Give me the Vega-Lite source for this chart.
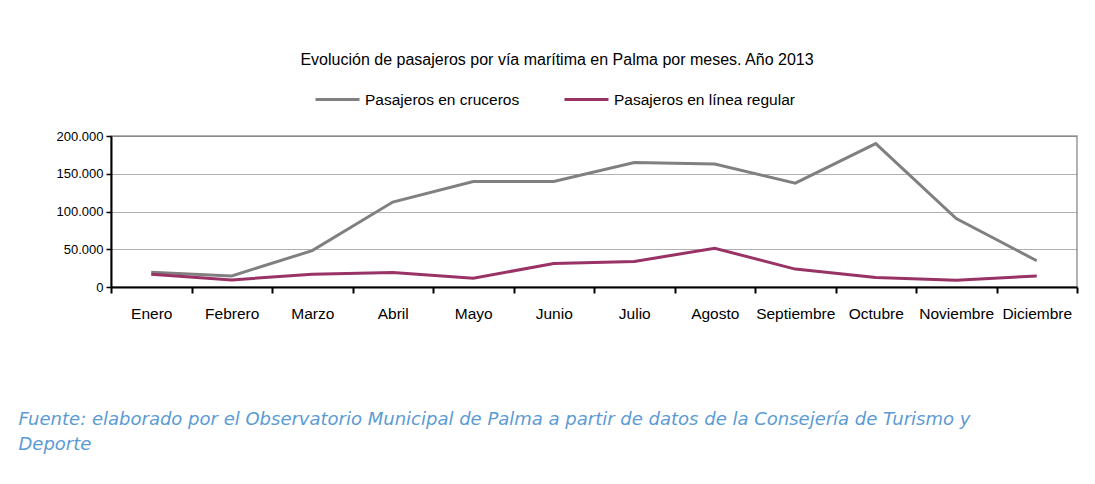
{
  "$schema": "https://vega.github.io/schema/vega-lite/v6.json",
  "width": 966,
  "height": 151,
  "autosize": {"type": "none"},
  "padding": {"left": 111, "top": 136, "right": 18, "bottom": 197},
  "background": "white",
  "title": {
    "text": "Evolución de pasajeros por vía marítima en Palma por meses. Año 2013",
    "font": "Liberation Sans",
    "fontSize": 16,
    "fontWeight": "normal",
    "color": "#000000",
    "anchor": "middle",
    "dx": -37,
    "offset": 8
  },
  "data": {
    "values": [
      {"mes": "Enero", "serie": "Pasajeros en cruceros", "pasajeros": 19500},
      {"mes": "Febrero", "serie": "Pasajeros en cruceros", "pasajeros": 14700},
      {"mes": "Marzo", "serie": "Pasajeros en cruceros", "pasajeros": 48200},
      {"mes": "Abril", "serie": "Pasajeros en cruceros", "pasajeros": 112500},
      {"mes": "Mayo", "serie": "Pasajeros en cruceros", "pasajeros": 139800},
      {"mes": "Junio", "serie": "Pasajeros en cruceros", "pasajeros": 139800},
      {"mes": "Julio", "serie": "Pasajeros en cruceros", "pasajeros": 165000},
      {"mes": "Agosto", "serie": "Pasajeros en cruceros", "pasajeros": 163000},
      {"mes": "Septiembre", "serie": "Pasajeros en cruceros", "pasajeros": 137600},
      {"mes": "Octubre", "serie": "Pasajeros en cruceros", "pasajeros": 190000},
      {"mes": "Noviembre", "serie": "Pasajeros en cruceros", "pasajeros": 90700},
      {"mes": "Diciembre", "serie": "Pasajeros en cruceros", "pasajeros": 34800},
      {"mes": "Enero", "serie": "Pasajeros en línea regular", "pasajeros": 17000},
      {"mes": "Febrero", "serie": "Pasajeros en línea regular", "pasajeros": 9400},
      {"mes": "Marzo", "serie": "Pasajeros en línea regular", "pasajeros": 17000},
      {"mes": "Abril", "serie": "Pasajeros en línea regular", "pasajeros": 19200},
      {"mes": "Mayo", "serie": "Pasajeros en línea regular", "pasajeros": 11600},
      {"mes": "Junio", "serie": "Pasajeros en línea regular", "pasajeros": 31200},
      {"mes": "Julio", "serie": "Pasajeros en línea regular", "pasajeros": 33900},
      {"mes": "Agosto", "serie": "Pasajeros en línea regular", "pasajeros": 51300},
      {"mes": "Septiembre", "serie": "Pasajeros en línea regular", "pasajeros": 23700},
      {"mes": "Octubre", "serie": "Pasajeros en línea regular", "pasajeros": 12500},
      {"mes": "Noviembre", "serie": "Pasajeros en línea regular", "pasajeros": 9000},
      {"mes": "Diciembre", "serie": "Pasajeros en línea regular", "pasajeros": 14700}
    ]
  },
  "mark": {"type": "line", "strokeWidth": 3, "strokeJoin": "miter"},
  "encoding": {
    "x": {
      "field": "mes",
      "type": "ordinal",
      "sort": null,
      "scale": {"paddingInner": 0, "paddingOuter": 0},
      "axis": {
        "title": ["Fuente: elaborado por el Observatorio Municipal de Palma a partir de datos de la Consejería de Turismo y", "Deporte"],
        "titleX": -93,
        "titleY": 137,
        "titleAnchor": "start",
        "titleAlign": "left",
        "titleBaseline": "alphabetic",
        "titleFont": "DejaVu Sans",
        "titleFontSize": 18,
        "titleFontStyle": "italic",
        "titleFontWeight": "normal",
        "titleColor": "#5B9BD5",
        "titleLineHeight": 25,
        "labelAngle": 0,
        "labelFont": "Liberation Sans",
        "labelFontSize": 15.5,
        "labelColor": "#000000",
        "labelPadding": 13,
        "labelLimit": 200,
        "tickBand": "extent",
        "tickSize": 6,
        "tickColor": "#000000",
        "tickWidth": 2,
        "domainColor": "#000000",
        "domainWidth": 2,
        "grid": false
      }
    },
    "y": {
      "field": "pasajeros",
      "type": "quantitative",
      "scale": {"domain": [0, 200000], "nice": false},
      "axis": {
        "title": null,
        "values": [0, 50000, 100000, 150000, 200000],
        "format": ",d",
        "labelFont": "Liberation Sans",
        "labelFontSize": 13,
        "labelColor": "#000000",
        "labelPadding": 3,
        "tickSize": 5,
        "tickColor": "#000000",
        "tickWidth": 1.5,
        "domainColor": "#000000",
        "domainWidth": 2,
        "grid": true,
        "gridColor": "#606060",
        "gridDash": [1, 1],
        "gridWidth": 1
      }
    },
    "color": {
      "field": "serie",
      "type": "nominal",
      "scale": {"range": ["#808080", "#993366"]},
      "legend": {
        "title": null,
        "orient": "none",
        "direction": "horizontal",
        "legendX": 203,
        "legendY": -60,
        "symbolType": "stroke",
        "symbolSize": 1936,
        "symbolStrokeWidth": 3,
        "labelFont": "Liberation Sans",
        "labelFontSize": 15.5,
        "labelLimit": 300,
        "labelColor": "#000000",
        "labelOffset": 4,
        "columnPadding": 38
      }
    }
  },
  "config": {
    "locale": {"number": {"decimal": ",", "thousands": ".", "grouping": [3], "currency": ["", " €"]}},
    "view": {"stroke": "#999999", "strokeWidth": 1.5}
  }
}
